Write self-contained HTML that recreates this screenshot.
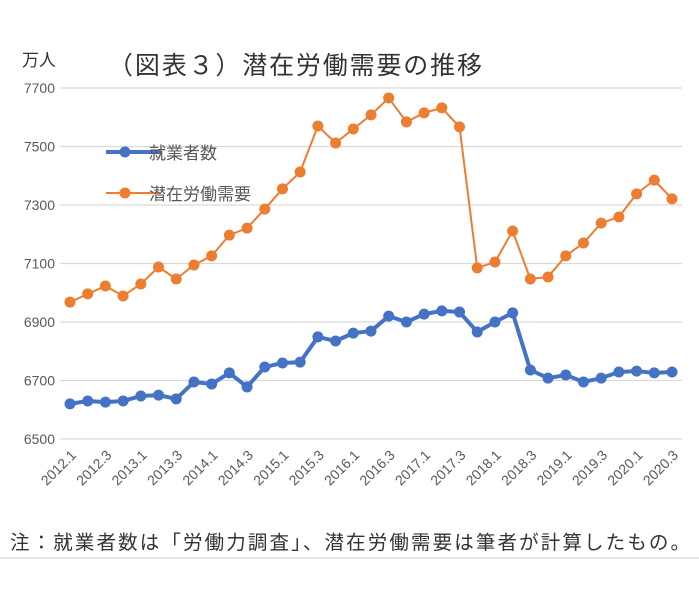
<!DOCTYPE html>
<html><head><meta charset="utf-8">
<style>
body{margin:0;background:#fff;width:699px;height:609px;overflow:hidden;font-family:"Liberation Sans","Noto Sans CJK JP",sans-serif;}
</style></head>
<body>
<svg width="699" height="609" xmlns="http://www.w3.org/2000/svg" font-family="Liberation Sans, Noto Sans CJK JP, sans-serif">
<text x="22" y="66" font-size="17" fill="#333">万人</text>
<text x="108" y="74" font-size="25" fill="#333" textLength="374" lengthAdjust="spacing">（図表３）潜在労働需要の推移</text>
<g id="grid"></g>
<g id="ylabels"></g>
<g id="xlabels"></g>
<g id="series"></g>
<g>
<line x1="106" y1="152" x2="160" y2="152" stroke="#4472C4" stroke-width="4"/>
<circle cx="125" cy="152" r="5.5" fill="#4472C4"/>
<text x="149" y="159" font-size="17" fill="#595959">就業者数</text>
<line x1="106" y1="193" x2="160" y2="193" stroke="#ED7D31" stroke-width="2"/>
<circle cx="125" cy="193" r="5.5" fill="#ED7D31"/>
<text x="149" y="200" font-size="17" fill="#595959">潜在労働需要</text>
</g>
<text x="10" y="549" font-size="19.5" fill="#333" textLength="680" lengthAdjust="spacing">注：就業者数は「労働力調査」、潜在労働需要は筆者が計算したもの。</text>
<line x1="0" y1="558" x2="699" y2="558" stroke="#ccc" stroke-width="1"/>
</svg>
<script>
const categories=["2012.1","2012.2","2012.3","2012.4","2013.1","2013.2","2013.3","2013.4","2014.1","2014.2","2014.3","2014.4","2015.1","2015.2","2015.3","2015.4","2016.1","2016.2","2016.3","2016.4","2017.1","2017.2","2017.3","2017.4","2018.1","2018.2","2018.3","2018.4","2019.1","2019.2","2019.3","2019.4","2020.1","2020.2","2020.3"];
const employed=[6620,6630,6626,6630,6647,6650,6637,6695,6688,6726,6678,6746,6760,6763,6849,6835,6862,6869,6920,6900,6927,6938,6934,6866,6900,6931,6736,6708,6719,6695,6708,6729,6732,6726,6729];
const potentialDemand=[6968,6996,7023,6989,7030,7088,7047,7095,7126,7197,7221,7286,7355,7413,7570,7512,7560,7608,7666,7584,7615,7632,7567,7085,7105,7211,7047,7054,7126,7170,7238,7259,7338,7385,7321];
const yTicks=[6500,6700,6900,7100,7300,7500,7700];
const NS="http://www.w3.org/2000/svg";
function xs(i){return 70+i*(602/(categories.length-1));}
function ys(v){return 439-(v-6500)*(351/1200);}
function mk(tag,attrs,parent){const e=document.createElementNS(NS,tag);for(const k in attrs)e.setAttribute(k,attrs[k]);parent.appendChild(e);return e;}
const grid=document.getElementById('grid'),yl=document.getElementById('ylabels'),xl=document.getElementById('xlabels'),se=document.getElementById('series');
yTicks.forEach(t=>{
 const l=mk('line',{x1:60,x2:682,y1:ys(t),y2:ys(t),stroke:'#d9d9d9','stroke-width':1.3},grid);
 
 
 const tx=mk('text',{x:55,y:ys(t)+5,'text-anchor':'end','font-size':14,fill:'#595959'},yl);
 tx.textContent=t;
 
 
});
categories.forEach((c,i)=>{
 if(i%2)return;
 const x=xs(i)+7,y=456;
 const tx=mk('text',{x:x,y:y,'text-anchor':'end','font-size':14,fill:'#595959',transform:`rotate(-45 ${x} ${y})`},xl);
 tx.textContent=c;
 
 
});
function draw(vals,color,w,name){
 const g=mk('g',{},se);
 
 
 const p=mk('polyline',{points:vals.map((v,i)=>xs(i)+','+ys(v)).join(' '),fill:'none',stroke:color,'stroke-width':w,'stroke-linejoin':'round'},g);
 
 
 vals.forEach((v,i)=>{
  const c=mk('circle',{cx:xs(i),cy:ys(v),r:5.5,fill:color},g);
  
  
 });
}
draw(potentialDemand,'#ED7D31',2,'potential-demand');
draw(employed,'#4472C4',4,'employed');
</script>
</body></html>
